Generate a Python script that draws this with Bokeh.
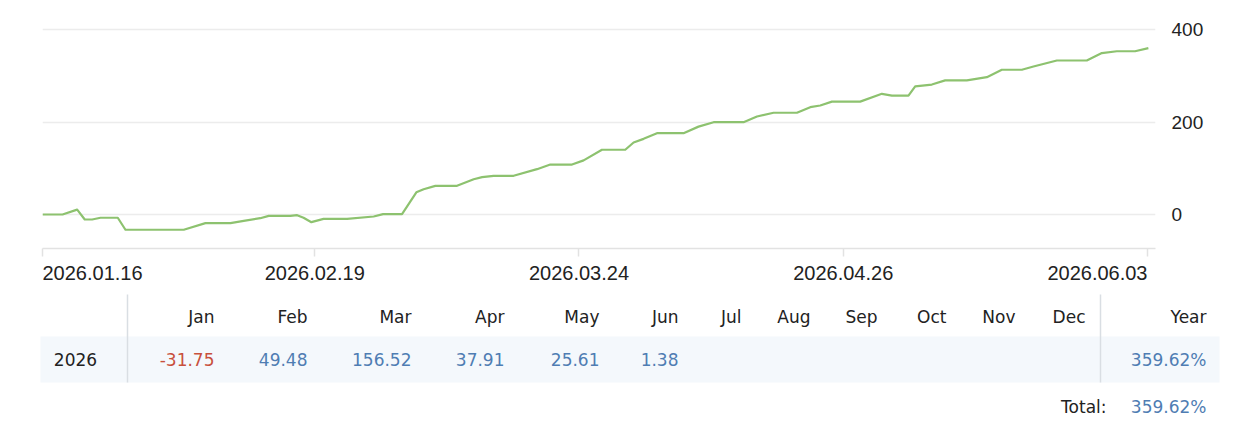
import pandas as pd
from bokeh.plotting import figure
from bokeh.models import Range1d, FixedTicker, CustomJSTickFormatter, BoxAnnotation
from bokeh.layouts import column
from bokeh.embed import file_html
from bokeh.resources import INLINE
from bokeh.core.properties import value

# ---------------- data ----------------
start_date = "2026-01-16"
day_offsets = [0, 2.5, 4.33, 5.28, 6.2, 7.24, 9.4, 10.36, 17.64, 20.35, 23.47, 25.13,
               27.2, 28.25, 30.96, 31.8, 32.6, 33.58, 35.1, 38.04, 41.36, 42.53, 44.9,
               46.69, 47.6, 49.06, 51.77, 53.85, 54.9, 56.34, 58.84, 61.76, 63.42, 66.13,
               67.58, 69.87, 72.78, 73.82, 75.07, 76.74, 80.06, 81.93, 83.81, 87.55, 89.23,
               91.3, 94.22, 95.88, 97.13, 98.59, 102.12, 104.83, 106.08, 108.15, 108.99,
               111.07, 112.73, 115.44, 117.94, 119.81, 122.31, 123.76, 126.68, 130.42,
               132.3, 134.17, 136.45, 138.11]
growth = [0, 0, 10.6, -10.8, -10.8, -7, -7, -33, -33, -18.7, -18.7, -13.7, -8, -3, -3,
          -1.4, -7, -16.6, -9.4, -9.4, -4.3, 0.7, 0.7, 48, 54.7, 62, 62, 76.3, 80.7, 83.7,
          83.7, 98, 108, 108, 117, 140, 140, 155.7, 163.6, 175.8, 175.8, 190, 199.6, 199.6,
          212, 220, 220, 232, 235.7, 244, 244, 261, 257, 257, 277, 281, 290, 290, 297, 313,
          313, 320, 333, 333, 349, 353, 353, 359.6]

tick_dates = ["2026-01-16", "2026-02-19", "2026-03-24", "2026-04-26", "2026-06-03"]
tick_labels = ["2026.01.16", "2026.02.19", "2026.03.24", "2026.04.26", "2026.06.03"]
y_ticks = [0, 200, 400]

year_label = "2026"
months = ["Jan", "Feb", "Mar", "Apr", "May", "Jun", "Jul", "Aug", "Sep", "Oct", "Nov", "Dec"]
monthly = [-31.75, 49.48, 156.52, 37.91, 25.61, 1.38, None, None, None, None, None, None]
year_return = 359.62
total_return = 359.62

# ---------------- styles / layout ----------------
W = 1247
LEFT, RIGHT = 42, 92
LINE_COLOR = "#8dc26f"
GRID_COLOR = "#ececec"
AXIS_COLOR = "#e2e2e2"
TEXT_COLOR = "#222222"
POS_COLOR = "#4f7db3"
NEG_COLOR = "#c8503c"
CHART_FONT = "Liberation Sans"
TABLE_FONT = "DejaVu Sans"

t0 = pd.Timestamp(start_date)
dates = t0 + pd.to_timedelta(day_offsets, unit="D")
tick_ts = [pd.Timestamp(d) for d in tick_dates]
tick_ms = [ts.value / 1e6 for ts in tick_ts]

xr = Range1d(t0, t0 + pd.Timedelta(days=139))

chart = figure(width=W, height=260, x_axis_type="datetime", y_axis_location="right",
               output_backend="svg", toolbar_location=None,
               x_range=xr, y_range=Range1d(-73.5, 423.8),
               min_border_left=LEFT, min_border_right=RIGHT, min_border_top=18,
               min_border_bottom=12)
chart.outline_line_color = None
chart.background_fill_color = "white"
chart.border_fill_color = "white"

chart.line(dates, growth, line_color=LINE_COLOR, line_width=2.2, line_join="round")

# y axis (right)
chart.yaxis.ticker = FixedTicker(ticks=y_ticks)
chart.yaxis.axis_line_color = None
chart.yaxis.major_tick_line_color = None
chart.yaxis.minor_tick_line_color = None
chart.yaxis.major_label_standoff = 10
chart.yaxis.major_label_text_font = CHART_FONT
chart.yaxis.major_label_text_font_size = "19px"
chart.yaxis.major_label_text_color = TEXT_COLOR
chart.ygrid.ticker = FixedTicker(ticks=y_ticks)
chart.ygrid.grid_line_color = GRID_COLOR
chart.ygrid.grid_line_width = 1.5
chart.xgrid.visible = False

# x axis: line + tick marks (labels are drawn below with per-label alignment)
chart.xaxis.ticker = FixedTicker(ticks=tick_ms)
chart.xaxis.formatter = CustomJSTickFormatter(code="return ''")
chart.xaxis.axis_line_color = AXIS_COLOR
chart.xaxis.axis_line_width = 1.5
chart.xaxis.major_tick_line_color = AXIS_COLOR
chart.xaxis.major_tick_line_width = 1.5
chart.xaxis.major_tick_in = 0
chart.xaxis.major_tick_out = 8
chart.xaxis.minor_tick_line_color = None
chart.xaxis.major_label_standoff = 0

# date labels strip, sharing the chart's time scale
DH = 30
dates_fig = figure(width=W, height=DH, x_axis_type="datetime", output_backend="svg",
                   toolbar_location=None, x_range=xr, y_range=Range1d(DH, 0),
                   x_axis_location=None, y_axis_location=None,
                   min_border_left=LEFT, min_border_right=RIGHT,
                   min_border_top=0, min_border_bottom=0)
dates_fig.outline_line_color = None
dates_fig.grid.visible = False
aligns = ["left"] + ["center"] * (len(tick_labels) - 2) + ["right"]
dates_fig.text(x=tick_ts, y=[12] * len(tick_ts), text=tick_labels, text_align=aligns,
               text_baseline="middle", text_font=value(CHART_FONT), text_font_size="20px",
               text_color=TEXT_COLOR)

# ---------------- table ----------------
TH = 136
table = figure(width=W, height=TH, output_backend="svg", toolbar_location=None,
               x_range=Range1d(0, W), y_range=Range1d(TH, 0),
               x_axis_location=None, y_axis_location=None,
               min_border=0, min_border_left=0, min_border_right=0,
               min_border_top=0, min_border_bottom=0)
table.frame_align = False
table.outline_line_color = None
table.grid.visible = False
table.background_fill_color = "white"
table.border_fill_color = "white"

header_y = 26
row_y = 69
total_y = 116
col_right = [214, 307, 411, 504, 599, 678, 741, 810, 877, 946, 1015, 1085]
year_right = 1206
year_x = 75

table.add_layout(BoxAnnotation(left=40, right=1219, top=46, bottom=92, level="underlay",
                               fill_color="#f4f8fc", fill_alpha=1, line_color=None))
table.segment(x0=[127, 1100], y0=[4, 4], x1=[127, 1100], y1=[92, 92],
              line_color="#d9dee3", line_width=1.5)

txt = dict(text_baseline="middle", text_font=value(TABLE_FONT), text_font_size="17px")
table.text(x=col_right + [year_right], y=[header_y] * 13, text=months + ["Year"],
           text_align="right", text_color=TEXT_COLOR, **txt)
table.text(x=[year_x], y=[row_y], text=[year_label], text_align="center",
           text_color=TEXT_COLOR, **txt)

vx, vt, vc = [], [], []
for xpos, v in zip(col_right, monthly):
    if v is None:
        continue
    vx.append(xpos)
    vt.append(f"{v:.2f}")
    vc.append(NEG_COLOR if v < 0 else POS_COLOR)
table.text(x=vx, y=[row_y] * len(vx), text=vt, text_color=vc, text_align="right", **txt)
table.text(x=[year_right], y=[row_y], text=[f"{year_return:.2f}%"], text_align="right",
           text_color=POS_COLOR, **txt)
table.text(x=[1106], y=[total_y], text=["Total:"], text_align="right",
           text_color=TEXT_COLOR, **txt)
table.text(x=[year_right], y=[total_y], text=[f"{total_return:.2f}%"], text_align="right",
           text_color=POS_COLOR, **txt)

layout = column(chart, dates_fig, table, spacing=0)
open("out.html", "w").write(file_html(layout, INLINE))
